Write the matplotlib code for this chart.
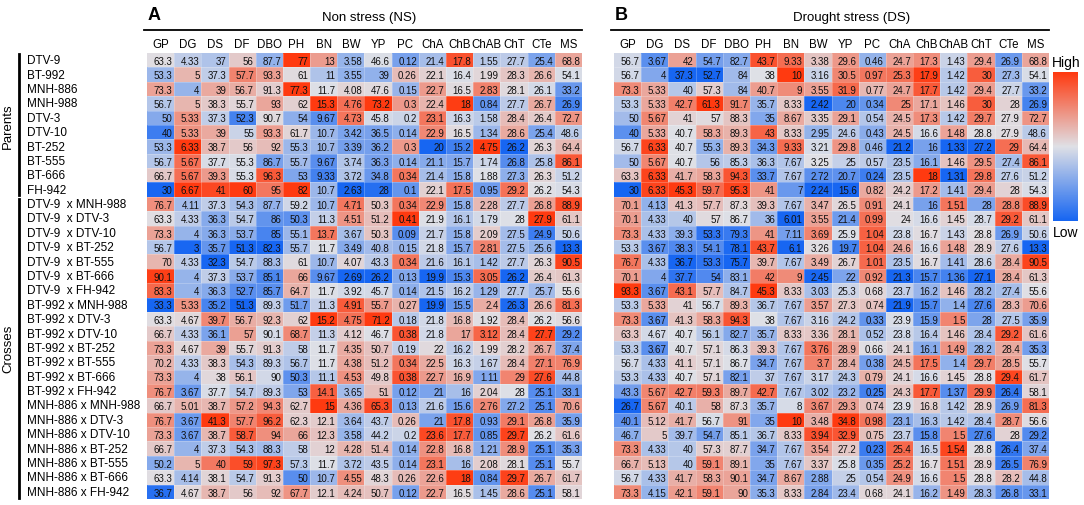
import numpy as np
import matplotlib
matplotlib.use('Agg')
import matplotlib.pyplot as plt
from matplotlib.colors import LinearSegmentedColormap
from matplotlib.lines import Line2D

traits = ['GP', 'DG', 'DS', 'DF', 'DBO', 'PH', 'BN', 'BW', 'YP', 'PC',
          'ChA', 'ChB', 'ChAB', 'ChT', 'CTe', 'MS']
parents = ['DTV-9', 'BT-992', 'MNH-886', 'MNH-988', 'DTV-3', 'DTV-10',
           'BT-252', 'BT-555', 'BT-666', 'FH-942']
crosses = ['DTV-9  x MNH-988', 'DTV-9  x DTV-3', 'DTV-9  x DTV-10', 'DTV-9  x BT-252',
           'DTV-9  x BT-555', 'DTV-9  x BT-666', 'DTV-9  x FH-942',
           'BT-992 x MNH-988', 'BT-992 x DTV-3', 'BT-992 x DTV-10', 'BT-992 x BT-252',
           'BT-992 x BT-555', 'BT-992 x BT-666', 'BT-992 x FH-942',
           'MNH-886 x MNH-988', 'MNH-886 x DTV-3', 'MNH-886 x DTV-10', 'MNH-886 x BT-252',
           'MNH-886 x BT-555', 'MNH-886 x BT-666', 'MNH-886 x FH-942']

# Non stress (NS)
ns_parents = [
    [63.3, 4.33, 37, 56, 87.7, 77, 13, 3.58, 46.6, 0.12, 21.4, 17.8, 1.55, 27.7, 25.4, 68.8],
    [53.3, 5, 37.3, 57.7, 93.3, 61, 11, 3.55, 39, 0.26, 22.1, 16.4, 1.99, 28.3, 26.6, 54.1],
    [73.3, 4, 39, 56.7, 91.3, 77.3, 11.7, 4.08, 47.6, 0.15, 22.7, 16.5, 2.83, 28.1, 26.1, 33.2],
    [56.7, 5, 38.3, 55.7, 93, 62, 15.3, 4.76, 73.2, 0.3, 22.4, 18, 0.84, 27.7, 26.7, 26.9],
    [50, 5.33, 37.3, 52.3, 90.7, 54, 9.67, 4.73, 45.8, 0.2, 23.1, 16.3, 1.58, 28.4, 26.4, 72.7],
    [40, 5.33, 39, 55, 93.3, 61.7, 10.7, 3.42, 36.5, 0.14, 22.9, 16.5, 1.34, 28.6, 25.4, 48.6],
    [53.3, 6.33, 38.7, 56, 92, 55.3, 10.7, 3.39, 36.2, 0.3, 20, 15.2, 4.75, 26.2, 26.3, 64.4],
    [56.7, 5.67, 37.7, 55.3, 86.7, 55.7, 9.67, 3.74, 36.3, 0.14, 21.1, 15.7, 1.74, 26.8, 25.8, 86.1],
    [66.7, 5.67, 39.3, 55.3, 96.3, 53, 9.33, 3.72, 34.8, 0.34, 21.4, 15.8, 1.88, 27.3, 26.3, 51.2],
    [30, 6.67, 41, 60, 95, 82, 10.7, 2.63, 28, 0.1, 22.1, 17.5, 0.95, 29.2, 26.2, 54.3],
]
ns_crosses = [
    [76.7, 4.11, 37.3, 54.3, 87.7, 59.2, 10.7, 4.71, 50.3, 0.34, 22.9, 15.8, 2.28, 27.7, 26.8, 88.9],
    [63.3, 4.33, 36.3, 54.7, 86, 50.3, 11.3, 4.51, 51.2, 0.41, 21.9, 16.1, 1.79, 28, 27.9, 61.1],
    [73.3, 4, 36.3, 53.7, 85, 55.1, 13.7, 3.67, 50.3, 0.09, 21.7, 15.8, 2.09, 27.5, 24.9, 50.6],
    [56.7, 3, 35.7, 51.3, 82.3, 55.7, 11.7, 3.49, 40.8, 0.15, 21.8, 15.7, 2.81, 27.5, 25.6, 13.3],
    [70, 4.33, 32.3, 54.7, 88.3, 61, 10.7, 4.07, 43.3, 0.34, 21.6, 16.1, 1.42, 27.7, 26.3, 90.5],
    [90.1, 4, 37.3, 53.7, 85.1, 66, 9.67, 2.69, 26.2, 0.13, 19.9, 15.3, 3.05, 26.2, 26.4, 61.3],
    [83.3, 4, 36.3, 52.7, 85.7, 64.7, 11.7, 3.92, 45.7, 0.14, 21.5, 16.2, 1.29, 27.7, 25.7, 55.6],
    [33.3, 5.33, 35.2, 51.3, 89.3, 51.7, 11.3, 4.91, 55.7, 0.27, 19.9, 15.5, 2.4, 26.3, 26.6, 81.3],
    [63.3, 4.67, 39.7, 56.7, 92.3, 62, 15.2, 4.75, 71.2, 0.18, 21.8, 16.8, 1.92, 28.4, 26.2, 56.6],
    [66.7, 4.33, 36.1, 57, 90.1, 68.7, 11.3, 4.12, 46.7, 0.38, 21.8, 17, 3.12, 28.4, 27.7, 29.2],
    [73.3, 4.67, 39, 55.7, 91.3, 58, 11.7, 4.35, 50.7, 0.19, 22, 16.2, 1.99, 28.2, 26.7, 37.4],
    [70.2, 4.33, 38.3, 54.3, 89.3, 56.7, 11.7, 4.38, 51.2, 0.34, 22.5, 16.3, 1.67, 28.4, 27.1, 76.9],
    [73.3, 4, 38, 56.1, 90, 50.3, 11.1, 4.53, 49.8, 0.38, 22.7, 16.9, 1.11, 29, 27.6, 44.8],
    [76.7, 3.67, 37.7, 54.7, 89.3, 53, 14.1, 3.65, 51, 0.12, 21, 16, 2.04, 28, 25.1, 33.1],
    [66.7, 5.01, 38.7, 57.2, 94.3, 62.7, 15, 4.36, 65.3, 0.13, 21.6, 15.6, 2.76, 27.2, 25.1, 70.6],
    [76.7, 3.67, 41.3, 57.7, 96.2, 62.3, 12.1, 3.64, 43.7, 0.26, 21, 17.8, 0.93, 29.1, 26.8, 35.9],
    [73.3, 3.67, 38.7, 58.7, 94, 66, 12.3, 3.58, 44.2, 0.2, 23.6, 17.7, 0.85, 29.7, 26.2, 61.6],
    [66.7, 4, 37.3, 54.3, 88.3, 58, 12, 4.28, 51.4, 0.14, 22.8, 16.8, 1.21, 28.9, 25.1, 35.3],
    [50.2, 5, 40, 59, 97.3, 57.3, 11.7, 3.72, 43.5, 0.14, 23.1, 16, 2.08, 28.1, 25.1, 55.7],
    [63.3, 4.14, 38.1, 54.7, 91.3, 50, 10.7, 4.55, 48.3, 0.26, 22.6, 18, 0.84, 29.7, 26.7, 61.7],
    [36.7, 4.67, 38.7, 56, 92, 67.7, 12.1, 4.24, 50.7, 0.12, 22.7, 16.5, 1.45, 28.6, 25.1, 58.1],
]

# Drought stress (DS)
ds_parents = [
    [56.7, 3.67, 42, 54.7, 82.7, 43.7, 9.33, 3.38, 29.6, 0.46, 24.7, 17.3, 1.43, 29.4, 26.9, 68.8],
    [56.7, 4, 37.3, 52.7, 84, 38, 10, 3.16, 30.5, 0.97, 25.3, 17.9, 1.42, 30, 27.3, 54.1],
    [73.3, 5.33, 40, 57.3, 84, 40.7, 9, 3.55, 31.9, 0.77, 24.7, 17.7, 1.42, 29.4, 27.7, 33.2],
    [53.3, 5.33, 42.7, 61.3, 91.7, 35.7, 8.33, 2.42, 20, 0.34, 25, 17.1, 1.46, 30, 28, 26.9],
    [50, 5.67, 41, 57, 88.3, 35, 8.67, 3.35, 29.1, 0.54, 24.5, 17.3, 1.42, 29.7, 27.9, 72.7],
    [40, 5.33, 40.7, 58.3, 89.3, 43, 8.33, 2.95, 24.6, 0.43, 24.5, 16.6, 1.48, 28.8, 27.9, 48.6],
    [56.7, 6.33, 40.7, 55.3, 89.3, 34.3, 9.33, 3.21, 29.8, 0.46, 21.2, 16, 1.33, 27.2, 29, 64.4],
    [50, 5.67, 40.7, 56, 85.3, 36.3, 7.67, 3.25, 25, 0.57, 23.5, 16.1, 1.46, 29.5, 27.4, 86.1],
    [63.3, 6.33, 41.7, 58.3, 94.3, 33.7, 7.67, 2.72, 20.7, 0.24, 23.5, 18, 1.31, 29.8, 27.6, 51.2],
    [30, 6.33, 45.3, 59.7, 95.3, 41, 7, 2.24, 15.6, 0.82, 24.2, 17.2, 1.41, 29.4, 28, 54.3],
]
ds_crosses = [
    [70.1, 4.13, 41.3, 57.7, 87.3, 39.3, 7.67, 3.47, 26.5, 0.91, 24.1, 16, 1.51, 28, 28.8, 88.9],
    [70.1, 4.33, 40, 57, 86.7, 36, 6.01, 3.55, 21.4, 0.99, 24, 16.6, 1.45, 28.7, 29.2, 61.1],
    [73.3, 4.33, 39.3, 53.3, 79.3, 41, 7.11, 3.69, 25.9, 1.04, 23.8, 16.7, 1.43, 28.8, 26.9, 50.6],
    [53.3, 3.67, 38.3, 54.1, 78.1, 43.7, 6.1, 3.26, 19.7, 1.04, 24.6, 16.6, 1.48, 28.9, 27.6, 13.3],
    [76.7, 4.33, 36.7, 53.3, 75.7, 39.7, 7.67, 3.49, 26.7, 1.01, 23.5, 16.7, 1.41, 28.6, 28.4, 90.5],
    [70.1, 4, 37.7, 54, 83.1, 42, 9, 2.45, 22, 0.92, 21.3, 15.7, 1.36, 27.1, 28.4, 61.3],
    [93.3, 3.67, 43.1, 57.7, 84.7, 45.3, 8.33, 3.03, 25.3, 0.68, 23.7, 16.2, 1.46, 28.2, 27.4, 55.6],
    [53.3, 5.33, 41, 56.7, 89.3, 36.7, 7.67, 3.57, 27.3, 0.74, 21.9, 15.7, 1.4, 27.6, 28.3, 70.6],
    [73.3, 3.67, 41.3, 58.3, 94.3, 38, 7.67, 3.16, 24.2, 0.33, 23.9, 15.9, 1.5, 28, 27.5, 35.9],
    [63.3, 4.67, 40.7, 56.1, 82.7, 35.7, 8.33, 3.36, 28.1, 0.52, 23.8, 16.4, 1.46, 28.4, 29.2, 61.6],
    [53.3, 3.67, 40.7, 57.1, 86.3, 39.3, 7.67, 3.76, 28.9, 0.66, 24.1, 16.1, 1.49, 28.2, 28.4, 35.3],
    [56.7, 4.33, 41.1, 57.1, 86.7, 34.7, 7.67, 3.7, 28.4, 0.38, 24.5, 17.5, 1.4, 29.7, 28.5, 55.7],
    [53.3, 4.33, 40.7, 57.1, 82.1, 37, 7.67, 3.17, 24.3, 0.79, 24.1, 16.6, 1.45, 28.8, 29.4, 61.7],
    [43.3, 5.67, 42.7, 59.3, 89.7, 42.7, 7.67, 3.02, 23.2, 0.25, 24.3, 17.7, 1.37, 29.9, 26.4, 58.1],
    [26.7, 5.67, 40.1, 58, 87.3, 35.7, 8, 3.67, 29.3, 0.74, 23.9, 16.8, 1.42, 28.9, 26.9, 81.3],
    [40.1, 5.12, 41.7, 56.7, 91, 35, 10, 3.48, 34.8, 0.98, 23.1, 16.3, 1.42, 28.4, 28.7, 56.6],
    [46.7, 5, 39.7, 54.7, 85.1, 36.7, 8.33, 3.94, 32.9, 0.75, 23.7, 15.8, 1.5, 27.6, 28, 29.2],
    [73.3, 4.33, 40, 57.3, 87.7, 34.7, 7.67, 3.54, 27.2, 0.23, 25.4, 16.5, 1.54, 28.8, 26.4, 37.4],
    [66.7, 5.13, 40, 59.1, 89.1, 35, 7.67, 3.37, 25.8, 0.35, 25.2, 16.7, 1.51, 28.9, 26.5, 76.9],
    [56.7, 4.33, 41.7, 58.3, 90.1, 34.7, 8.67, 2.88, 25, 0.54, 24.9, 16.6, 1.5, 28.8, 28.2, 44.8],
    [73.3, 4.15, 42.1, 59.1, 90, 35.3, 8.33, 2.84, 23.4, 0.68, 24.1, 16.2, 1.49, 28.3, 26.8, 33.1],
]

W, H = 1084, 506
TOP, BOT = 54, 500
ROW_H = (BOT - TOP) / 31


def fx(x):
    return x / W


def fy(y):
    return 1 - y / H


cmap = LinearSegmentedColormap.from_list('lowhigh', ['#1766f2', '#dfe0e6', '#ff3a10'])
font = ['Liberation Sans', 'DejaVu Sans']

fig = plt.figure(figsize=(W / 100, H / 100), dpi=100)


def draw_panel(x0, rows, letter, title, title_x):
    vals = np.array(rows, dtype=float)
    # colour = column-wise z-score within the panel
    z = (vals - vals.mean(axis=0)) / vals.std(axis=0)
    ax = fig.add_axes([fx(x0), fy(BOT), 435 / W, (BOT - TOP) / H])
    ax.pcolormesh(np.arange(17), np.arange(32), z, cmap=cmap, vmin=-2, vmax=2)
    ax.hlines(np.arange(1, 31), 0, 16, color='white', lw=0.4, alpha=0.4)
    ax.vlines(np.arange(1, 16), 0, 31, color='white', lw=0.4, alpha=0.4)
    ax.set_xlim(0, 16)
    ax.set_ylim(31, 0)
    ax.axis('off')
    for i in range(vals.shape[0]):
        for j in range(vals.shape[1]):
            ax.text(j + 0.93, i + 0.55, f'{vals[i, j]:g}', ha='right', va='center',
                    fontsize=7.0, family=font, color='#111111')
    for j, t in enumerate(traits):
        ax.text(j + 0.5, -(TOP - 45) / ROW_H, t, ha='center', va='center',
                fontsize=8.3, family=font, clip_on=False)
    fig.text(fx(x0 + 1), fy(16), letter, fontsize=13, weight='bold', va='center',
             family=font)
    fig.text(fx(title_x), fy(18), title, fontsize=9.5, ha='center', va='center',
             family=font)
    fig.add_artist(Line2D([fx(x0 - 3), fx(x0 + 435)], [fy(31), fy(31)],
                          color='black', lw=1.3))


draw_panel(147, ns_parents + ns_crosses, 'A', 'Non stress (NS)', 369)
draw_panel(614, ds_parents + ds_crosses, 'B', 'Drought stress (DS)', 852)

# row labels
for i, name in enumerate(parents + crosses):
    fig.text(fx(27), fy(TOP + ROW_H * (i + 0.5)), name, ha='left', va='center',
             fontsize=8.5, family=font)

# group brackets
p_end = TOP + ROW_H * len(parents)
fig.add_artist(Line2D([fx(19), fx(19)], [fy(TOP + 1), fy(p_end - 2)], color='black', lw=2))
fig.add_artist(Line2D([fx(19), fx(19)], [fy(p_end + 2), fy(BOT - 1)], color='black', lw=2))
fig.text(fx(8), fy((TOP + p_end) / 2), 'Parents', rotation=90, ha='center', va='center',
         fontsize=9.5, family=font)
fig.text(fx(8), fy((p_end + BOT) / 2), 'Crosses', rotation=90, ha='center', va='center',
         fontsize=9.5, family=font)

# colour key
cax = fig.add_axes([fx(1053), fy(222), 25 / W, 149 / H])
cax.imshow(np.linspace(1, 0, 200).reshape(-1, 1), cmap=cmap, aspect='auto')
cax.axis('off')
fig.text(fx(1066), fy(63), 'High', ha='center', va='center', fontsize=10, family=font)
fig.text(fx(1066), fy(233), 'Low', ha='center', va='center', fontsize=10, family=font)

fig.savefig('out.png', dpi=100)
